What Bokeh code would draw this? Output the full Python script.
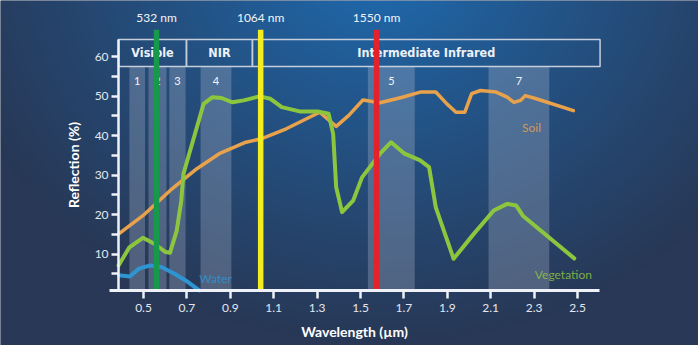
import numpy as np
from bokeh.plotting import figure
from bokeh.models import LinearAxis, FixedTicker, Range1d
from bokeh.core.properties import value
from bokeh.embed import file_html
from bokeh.resources import INLINE

# ---------------- data ----------------
veg_wl = [0.385, 0.435, 0.497, 0.55, 0.602, 0.622, 0.653, 0.674, 0.684, 0.715, 0.746, 0.777,
          0.818, 0.86, 0.91, 0.962, 1.034, 1.085, 1.137, 1.219, 1.302, 1.353, 1.374, 1.388,
          1.415, 1.466, 1.507, 1.59, 1.641, 1.703, 1.775, 1.816, 1.847, 1.929, 2.022, 2.114,
          2.176, 2.217, 2.248, 2.485]
veg_refl = [7.1, 11.7, 14.1, 12.6, 10.5, 10.3, 15.9, 23.5, 30.3, 36.2, 42.1, 48.0,
            49.7, 49.5, 48.4, 48.9, 49.9, 49.3, 47.2, 46.1, 46.1, 45.5, 40.4, 26.9,
            20.6, 23.5, 29.4, 35.4, 38.3, 35.4, 33.7, 32.0, 21.8, 8.8, 15.1, 21.0,
            22.7, 22.3, 19.7, 8.9]

soil_wl = [0.386, 0.497, 0.623, 0.746, 0.849, 0.972, 1.045, 1.158, 1.312, 1.388, 1.446, 1.511,
           1.59, 1.693, 1.775, 1.847, 1.898, 1.94, 1.981, 2.012, 2.053, 2.125, 2.176, 2.207,
           2.238, 2.259, 2.31, 2.481]
soil_refl = [15.1, 19.7, 26.1, 31.6, 35.4, 38.3, 39.2, 41.7, 45.9, 42.3, 45.1, 49.0,
             48.3, 49.7, 51.0, 51.0, 48.0, 45.9, 45.9, 50.6, 51.4, 51.0, 49.7, 48.4,
             48.9, 50.1, 49.3, 46.3]

water_wl = [0.386, 0.437, 0.479, 0.53, 0.582, 0.643, 0.705, 0.757]
water_refl = [4.6, 4.3, 6.3, 7.1, 6.7, 5.0, 2.9, 0.8]

band_labels = ["1", "2", "3", "4", "5", "7"]
band_start = [0.435, 0.523, 0.619, 0.763, 1.534, 2.09]
band_end = [0.507, 0.606, 0.694, 0.905, 1.75, 2.37]

region_names = ["Visible", "NIR", "Intermediate Infrared"]
region_start = [0.385, 0.698, 1.002]
region_end = [0.698, 1.002, 2.604]

laser_labels = ["532 nm", "1064 nm", "1550 nm"]
laser_pos = [0.56, 1.04, 1.574]
laser_colors = ["#16994a", "#f3ec1f", "#e3232c"]

x_ticks = [0.5, 0.7, 0.9, 1.1, 1.3, 1.5, 1.7, 1.9, 2.1, 2.3, 2.5]
y_ticks = [10, 20, 30, 40, 50, 60]
y_minor = [5, 15, 25, 35, 45, 55]

series_labels = ["Water", "Soil", "Vegetation"]
series_label_x = [0.832, 2.288, 2.435]
series_label_y = [3.9, 42.1, 4.8]
series_colors = ["#2f95d2", "#e9a24c", "#8cc63f"]

# ---------------- figure ----------------
X0, X1 = -0.159, 3.0576
Y0, Y1 = -13.16, 74.18
W, H = 698, 345

p = figure(width=W, height=H, x_range=Range1d(X0, X1), y_range=Range1d(Y0, Y1),
           output_backend="svg", toolbar_location=None,
           x_axis_location=None, y_axis_location=None, min_border=0)
p.min_border_left = p.min_border_right = p.min_border_top = p.min_border_bottom = 0
p.outline_line_color = None
p.background_fill_color = "#2a3b58"
p.border_fill_color = "#2a3b58"
p.xgrid.visible = False
p.ygrid.visible = False

# radial background gradient (styling only)
rows = np.arange(H)
cols = np.arange(W)
px = cols[None, :] + 0.5
py = rows[:, None] + 0.5          # row 0 drawn at bottom -> distance from bottom
py = H - py                        # convert to pixel-from-top
d = np.sqrt((px - 380.0) ** 2 + ((py + 40.0) * 1.15) ** 2)
t = np.clip(d / 440.0, 0, 1) ** 0.85
bright = np.array([30, 110, 182], dtype=float)
dark = np.array([40, 56, 86], dtype=float)
img = np.empty((H, W), dtype=np.uint32)
view = img.view(dtype=np.uint8).reshape((H, W, 4))
for k in range(3):
    view[:, :, k] = (bright[k] * (1 - t) + dark[k] * t).astype(np.uint8)
view[:, :, 3] = 255
p.image_rgba(image=[img], x=X0, y=Y0, dw=X1 - X0, dh=Y1 - Y0)

# spectral bands
p.quad(left=band_start, right=band_end, bottom=0.7, top=57.5,
       fill_color="#b4bed2", fill_alpha=0.3, line_color=None)
p.text(x=[(a + b) / 2 for a, b in zip(band_start, band_end)], y=[53.9] * len(band_labels),
       text=band_labels, text_font=value("Lato"), text_font_size="11px",
       text_color="#f4f6fa", text_align="center", text_baseline="middle")

# header regions
p.quad(left=region_start, right=region_end, bottom=57.5, top=64.3,
       fill_color=None, line_color="#c6cedb", line_width=1.5)
p.text(x=[(a + b) / 2 for a, b in zip(region_start, region_end)], y=[60.9] * 3,
       text=region_names, text_font=value("DejaVu Sans Condensed"), text_font_style="bold",
       text_font_size="12.5px", text_color="#eef1f6", text_align="center", text_baseline="middle")

# curves
p.line(water_wl, water_refl, line_color=series_colors[0], line_width=4, line_cap="round", line_join="round")
p.line(soil_wl, soil_refl, line_color=series_colors[1], line_width=3.5, line_cap="round", line_join="round")
p.line(veg_wl, veg_refl, line_color=series_colors[2], line_width=4, line_cap="round", line_join="round")

p.text(x=series_label_x, y=series_label_y, text=series_labels, text_font=value("Lato"),
       text_font_size="12px", text_color=series_colors, text_alpha=0.85,
       text_align="center", text_baseline="middle")

# laser wavelengths
p.segment(x0=laser_pos, y0=[0.7] * 3, x1=laser_pos, y1=[66.8] * 3,
          line_color=laser_colors, line_width=5.5)
p.text(x=laser_pos, y=[69.9] * 3, text=laser_labels, text_font=value("Lato"),
       text_font_size="12px", text_color="#f2f5fa", text_align="center", text_baseline="middle")

# axes
axis_col = "#eef2f8"
xaxis = LinearAxis(fixed_location=0.7, bounds=(0.343, 2.60), ticker=FixedTicker(ticks=x_ticks),
                   axis_label="Wavelength (µm)")
yaxis = LinearAxis(fixed_location=0.385, bounds=(0.7, 64.3),
                   ticker=FixedTicker(ticks=y_ticks, minor_ticks=y_minor),
                   axis_label="Reflection (%)")
for ax in (xaxis, yaxis):
    ax.axis_line_color = axis_col
    ax.major_tick_line_color = axis_col
    ax.major_tick_in = 0
    ax.major_label_text_font = "Lato"
    ax.major_label_text_font_size = "12px"
    ax.major_label_text_color = "#e2e7ef"
    ax.axis_label_text_font = "Lato"
    ax.axis_label_text_font_style = "bold"
    ax.axis_label_text_font_size = "14px"
    ax.axis_label_text_color = "#ffffff"
xaxis.axis_line_width = 3
xaxis.major_tick_line_width = 2.5
xaxis.major_tick_out = 8
xaxis.minor_tick_line_color = None
xaxis.major_label_standoff = 5
xaxis.axis_label_standoff = 8
yaxis.axis_line_width = 2.5
yaxis.major_tick_line_width = 2.5
yaxis.major_tick_out = 7
yaxis.minor_tick_out = 7
yaxis.minor_tick_in = 0
yaxis.minor_tick_line_width = 2.5
yaxis.minor_tick_line_color = axis_col
yaxis.major_label_standoff = 3
yaxis.axis_label_standoff = 10
p.add_layout(xaxis, "below")
p.add_layout(yaxis, "left")

open("out.html", "w").write(file_html(p, INLINE))
